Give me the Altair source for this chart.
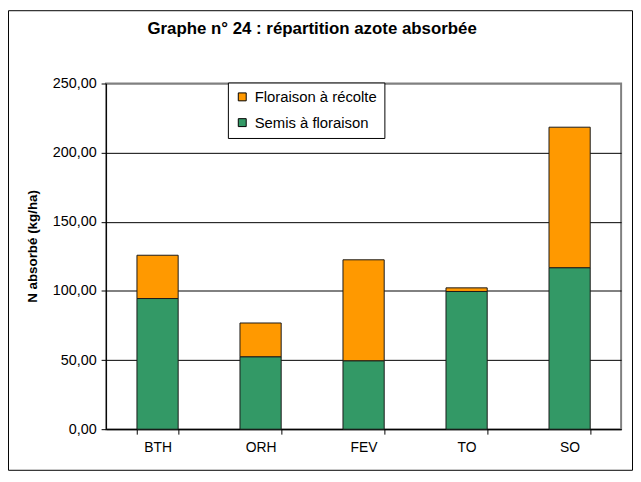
import altair as alt
import pandas as pd

categories = ["BTH", "ORH", "FEV", "TO", "SO"]
semis_floraison = [94.5, 52.4, 49.5, 99.6, 116.8]
floraison_recolte = [31.3, 24.4, 73.0, 2.6, 101.6]
series_names = ["Floraison à récolte", "Semis à floraison"]
series_colors = ["#FF9900", "#339966"]
y_ticks = [0, 50, 100, 150, 200, 250]
title_text = "Graphe n° 24 : répartition azote absorbée"
y_title = "N absorbé (kg/ha)"

rows = []
for c, s, f in zip(categories, semis_floraison, floraison_recolte):
    rows.append({"cat": c, "serie": series_names[1], "val": s, "ord": 0})
    rows.append({"cat": c, "serie": series_names[0], "val": f, "ord": 1})
df = pd.DataFrame(rows)
one = pd.DataFrame({"k": [0]})

FONT = "Liberation Sans"
W, H = 520, 349

bars = alt.Chart(df).mark_bar(stroke="#1a1a1a", strokeWidth=1).encode(
    x=alt.X(
        "cat:N", sort=categories,
        scale=alt.Scale(paddingInner=0.6, paddingOuter=0.3),
        axis=alt.Axis(title=None, tickBand="extent", tickSize=5, labelAngle=0,
                      labelPadding=7, labelFontSize=14, labelFont=FONT,
                      labelColor="black", domainColor="black", tickColor="black",
                      grid=False),
    ),
    y=alt.Y(
        "val:Q", stack="zero",
        scale=alt.Scale(domain=[0, 250], nice=False),
        axis=alt.Axis(values=y_ticks,
                      labelExpr="replace(format(datum.value, '.2f'), '.', ',')",
                      title=y_title, titleFont=FONT, titleFontSize=13.5,
                      titleFontWeight="bold", titleColor="black",
                      titleAngle=270, titleX=-74, titleY=164,
                      titleAlign="center", titleBaseline="middle",
                      tickSize=5, labelPadding=5, labelFontSize=14.5, labelFont=FONT,
                      labelColor="black", domainColor="black", tickColor="black",
                      grid=True,
                      gridColor={"condition": {"test": "datum.value == 250", "value": "#808080"}, "value": "black"},
                      gridWidth=1),
    ),
    color=alt.Color(
        "serie:N",
        scale=alt.Scale(domain=series_names, range=series_colors),
        legend=alt.Legend(orient="none", legendX=123, legendY=-1, title=None,
                          strokeColor="black", fillColor="white", padding=7,
                          symbolType="square", symbolSize=64,
                          symbolStrokeColor="black", symbolStrokeWidth=1,
                          labelFont=FONT, labelFontSize=15, labelColor="black",
                          rowPadding=10, labelOffset=5),
    ),
    order=alt.Order("ord:Q"),
)

title = alt.Chart(one).mark_text(
    text=title_text, font=FONT, fontSize=17, fontWeight="bold", color="black",
    align="center", baseline="middle",
).encode(x=alt.value(208), y=alt.value(-55))

frame = alt.Chart(one).mark_rect(
    fill="transparent", stroke="black", strokeWidth=1,
).encode(x=alt.value(-98.5), x2=alt.value(531.5), y=alt.value(-73.5), y2=alt.value(390.5))

chart = alt.layer(frame, bars, title).properties(
    width=W, height=H,
    autosize=alt.AutoSizeParams(type="none"),
    padding={"left": 99, "top": 74, "right": 12, "bottom": 42},
    background="white",
).configure_view(stroke="#808080", strokeWidth=2)

chart.save("out.html", embed_options={"renderer": "svg", "actions": False})
